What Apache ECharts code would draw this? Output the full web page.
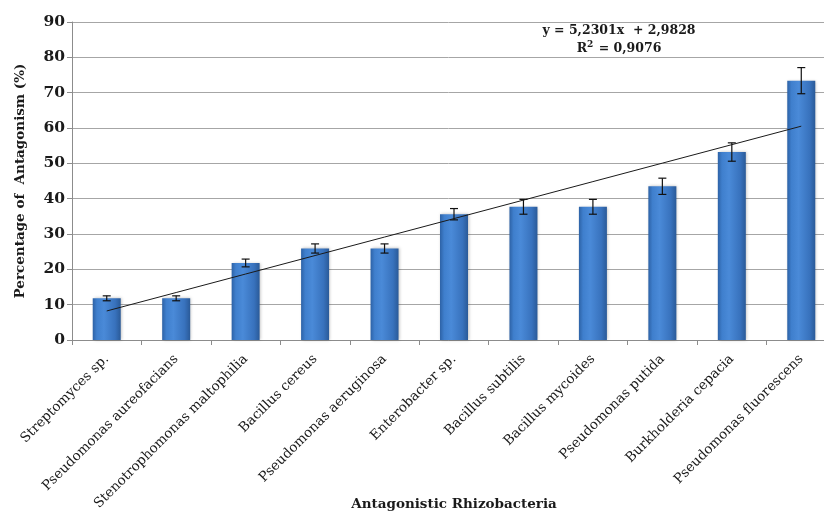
<!DOCTYPE html>
<html>
<head>
<meta charset="utf-8">
<script src="https://cdn.jsdelivr.net/npm/echarts@6/dist/echarts.min.js"></script>
<style>
  html, body { margin: 0; padding: 0; background: #fff; }
  #chart { width: 824px; height: 515px; }
</style>
</head>
<body>
<div id="chart"></div>
<script>
// Antagonism of rhizobacteria isolates (mean ± error)
const categories = [
  'Streptomyces sp.', 'Pseudomonas aureofacians', 'Stenotrophomonas maltophilia',
  'Bacillus cereus', 'Pseudomonas aeruginosa', 'Enterobacter sp.', 'Bacillus subtilis',
  'Bacillus mycoides', 'Pseudomonas putida', 'Burkholderia cepacia', 'Pseudomonas fluorescens'
];
const antagonism = [11.8, 11.8, 21.8, 25.9, 25.9, 35.6, 37.7, 37.7, 43.5, 53.2, 73.4];
const errors = [0.7, 0.7, 1.1, 1.3, 1.3, 1.6, 2.1, 2.1, 2.3, 2.6, 3.7];
const yTicks = [0, 10, 20, 30, 40, 50, 60, 70, 80, 90];

// Linear trend line, as given by its equation label
const slope = 5.2301;
const intercept = 2.9828;
const trend = categories.map((c, i) => +(slope * (i + 1) + intercept).toFixed(4));

const serif = '"DejaVu Serif", "Liberation Serif", serif';
const ink = '#1a1a1a';

const chart = echarts.init(document.getElementById('chart'));
chart.setOption({
  animation: false,
  backgroundColor: '#ffffff',
  grid: { left: 72, top: 22, width: 764, height: 318, containLabel: false, outerBoundsMode: 'none' },
  title: {
    text: 'y = 5,2301x  + 2,9828\n{r|R}{sup|2}{r| = 0,9076}',
    left: 614, top: 17, textAlign: 'center',
    textStyle: {
      fontFamily: serif, fontSize: 12.5, fontWeight: 'bold', color: ink,
      lineHeight: 18, align: 'center',
      rich: {
        r: { fontFamily: serif, fontSize: 12.5, fontWeight: 'bold', color: ink },
        sup: { fontFamily: serif, fontSize: 9, fontWeight: 'bold', color: ink, verticalAlign: 'top', padding: [0, 1, 7, 0] }
      }
    }
  },
  xAxis: {
    type: 'category',
    data: categories,
    name: 'Antagonistic Rhizobacteria',
    nameLocation: 'middle',
    nameGap: 157,
    nameMoveOverlap: false,
    nameTextStyle: { fontFamily: serif, fontSize: 13.5, fontWeight: 'bold', color: ink },
    axisLine: { lineStyle: { color: '#8c8c8c', width: 1 } },
    axisTick: { show: true, length: 5, lineStyle: { color: '#8c8c8c' } },
    axisLabel: { rotate: 45, fontFamily: serif, fontSize: 13.5, color: ink, margin: 17, interval: 0 }
  },
  yAxis: {
    type: 'value',
    min: 0, max: 90, interval: 10,
    name: 'Percentage of  Antagonism (%)',
    nameLocation: 'middle',
    nameGap: 45,
    nameTextStyle: { fontFamily: serif, fontSize: 13.5, fontWeight: 'bold', color: ink },
    axisLine: { show: true, lineStyle: { color: '#8c8c8c' } },
    axisTick: { show: true, length: 5, lineStyle: { color: '#8c8c8c' } },
    axisLabel: {
      fontFamily: serif, fontSize: 15.5, fontWeight: 'bold', color: ink, margin: 7,
      formatter: v => (yTicks.includes(v) ? String(v) : '')
    },
    splitLine: { lineStyle: { color: '#a6a6a6', width: 1 } }
  },
  series: [
    {
      type: 'bar',
      data: antagonism,
      barWidth: 28,
      itemStyle: {
        color: new echarts.graphic.LinearGradient(0, 0, 1, 0, [
          { offset: 0, color: '#2d62a6' },
          { offset: 0.15, color: '#3f7fcd' },
          { offset: 0.4, color: '#4a8ad8' },
          { offset: 0.8, color: '#3872bd' },
          { offset: 1, color: '#2a5a98' }
        ]),
        shadowColor: 'rgba(0,0,0,0.25)',
        shadowBlur: 3,
        shadowOffsetX: 1,
        shadowOffsetY: 0
      },
      z: 2
    },
    {
      type: 'custom',
      data: antagonism.map((v, i) => [i, v - errors[i], v + errors[i]]),
      renderItem: function (params, api) {
        const x = api.value(0);
        const lo = api.coord([x, api.value(1)]);
        const hi = api.coord([x, api.value(2)]);
        const half = 4;
        const style = { stroke: '#111', lineWidth: 1.2 };
        return {
          type: 'group',
          children: [
            { type: 'line', shape: { x1: lo[0], y1: lo[1], x2: hi[0], y2: hi[1] }, style },
            { type: 'line', shape: { x1: lo[0] - half, y1: lo[1], x2: lo[0] + half, y2: lo[1] }, style },
            { type: 'line', shape: { x1: hi[0] - half, y1: hi[1], x2: hi[0] + half, y2: hi[1] }, style }
          ]
        };
      },
      z: 4
    },
    {
      type: 'line',
      data: trend,
      symbol: 'none',
      lineStyle: { color: ink, width: 1 },
      z: 5
    }
  ]
});
</script>
</body>
</html>
